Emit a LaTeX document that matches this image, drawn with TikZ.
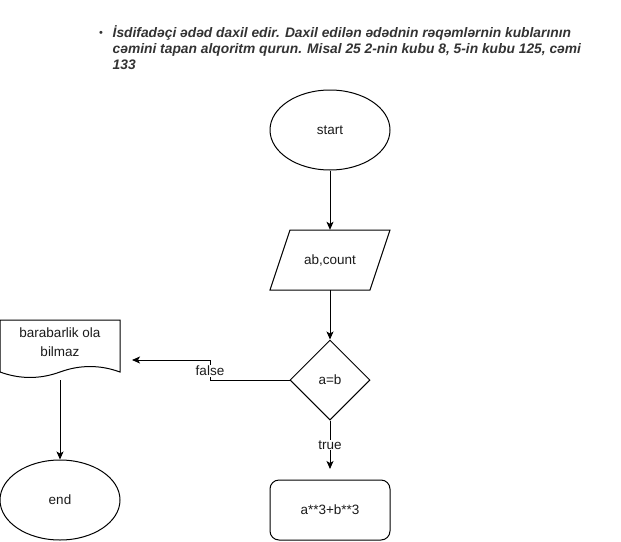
\documentclass[tikz,border=0pt]{standalone}
\usepackage{fontspec}
\setmainfont{Liberation Sans}
\usetikzlibrary{shapes.geometric,arrows.meta}
\definecolor{hdr}{HTML}{333333}
\definecolor{txt}{HTML}{1A1A1A}
\begin{document}
\begin{tikzpicture}[x=1pt,y=-1pt,
  every node/.style={font=\fontsize{13.5}{16}\selectfont,text=txt},
  box/.style={draw,line width=1pt,inner sep=0pt},
  oval/.style={box,ellipse,minimum width=120pt,minimum height=80pt},
  decision/.style={box,diamond,minimum width=80pt,minimum height=80pt,aspect=1},
  procbox/.style={box,rectangle,rounded corners=9pt,minimum width=120pt,minimum height=60pt},
  ghost/.style={rectangle,inner sep=0pt},
  conn/.style={line width=1pt,-{Stealth[length=8pt,width=7pt,inset=2pt]}},
  lbl/.style={fill=white,inner sep=1pt}]
\useasboundingbox (0,0) rectangle (621,541);
% header
\node[anchor=center,text=hdr] (bul) at (101,34) {\fontsize{11}{12}\selectfont •};
\node[anchor=north west,text=hdr,align=left,inner sep=0pt,font=\fontsize{13.8}{16.3}\selectfont\bfseries\itshape] (hd) at (112.5,25)
 {İsdifadəçi ədəd daxil edir. Daxil edilən ədədnin rəqəmlərnin kublarının\\
  cəmini tapan alqoritm qurun. Misal 25 2-nin kubu 8, 5-in kubu 125, cəmi\\
  133};
% start
\node[oval] (start) at (330,130) {start};
% input parallelogram
\node[ghost,minimum width=100pt,minimum height=60pt] (in) at (330,260) {ab,count};
\draw[line width=1pt] (290,230) -- (390,230) -- (370,290) -- (270,290) -- cycle;
% decision
\node[decision] (dec) at (330,380) {a=b};
% process
\node[procbox] (proc) at (330,510) {a**3+b**3};
% document
\node[ghost,minimum width=120pt,minimum height=60pt] (doc) at (60,350) {};
\draw[line width=1pt] (0,320) -- (120,320) -- (120,372)
  .. controls (100,364.7) and (80,364.7) .. (60,372)
  .. controls (40,379.3) and (20,379.3) .. (0,372) -- cycle;
\node[align=center,font=\fontsize{13.5}{19}\selectfont] (doctxt) at (60,342) {barabarlik ola\\bilmaz};
% end
\node[oval] (end) at (60,500) {end};
% connectors
\draw[conn] (start.south) -- (in.north);
\draw[conn] (in.south) -- (dec.north);
\coordinate (te) at (330,469);
\draw[conn] (dec.south) -- (te);
\node[lbl] (tl) at (330,445) {true};
\coordinate (fe) at (132,360);
\draw[conn] (dec.west) -- (210,380) -- (210,360) -- (fe);
\node[lbl] (fl) at (210,371) {false};
\draw[conn] (doc.south) -- (end.north);
\end{tikzpicture}
\end{document}
